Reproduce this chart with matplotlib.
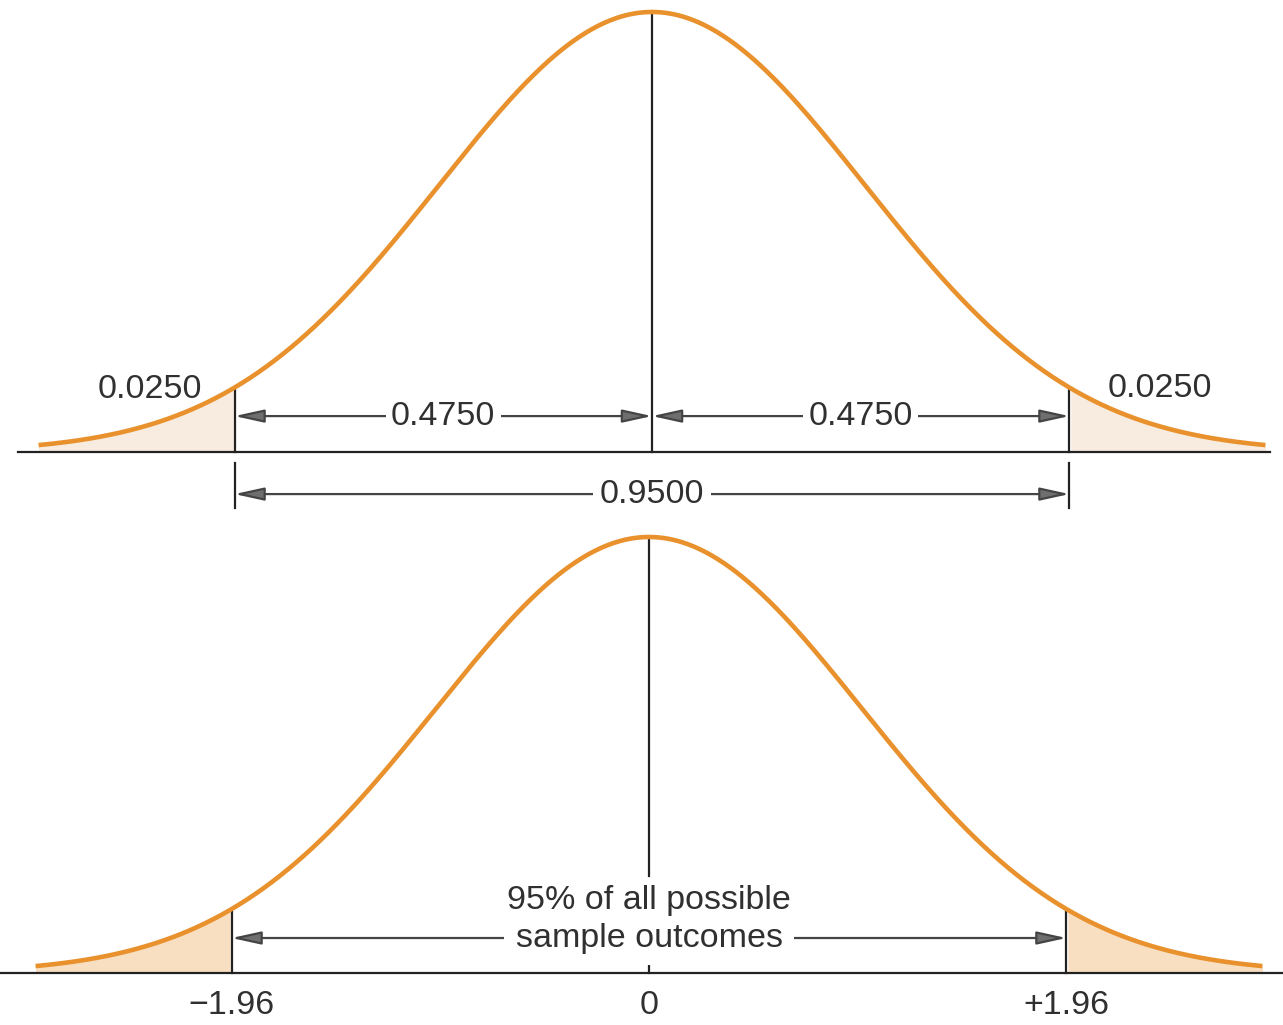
import numpy as np
import matplotlib.pyplot as plt

# values shown in the figure
cutoffs = [-1.96, 1.96]
tail_labels = ['0.0250', '0.0250']
half_labels = ['0.4750', '0.4750']
middle_label = '0.9500'
tick_values = [-1.96, 0, 1.96]
tick_labels = ['\u22121.96', '0', '+1.96']
middle_text = ['95% of all possible', 'sample outcomes']

curve_color = '#e8912d'
line_color = '#222222'
text_color = '#303030'
fs = 24.5
plt.rcParams['font.family'] = ['Liberation Sans', 'DejaVu Sans']

px = 213  # pixels per standard deviation
z_end = 2.88
z = np.linspace(-z_end, z_end, 600)
pdf = np.exp(-z ** 2 / 2) / np.sqrt(2 * np.pi)
peak = 1 / np.sqrt(2 * np.pi)


def pdf_at(v):
    return np.exp(-v ** 2 / 2) / np.sqrt(2 * np.pi)


def arrow(ax, x0, x1, y):
    ax.annotate('', xy=(x1, y), xytext=(x0, y),
                arrowprops=dict(arrowstyle='<|-|>,head_length=1.0,head_width=0.22',
                                mutation_scale=18, ec='#444444', fc='#6e6e6e',
                                lw=1.6, shrinkA=0, shrinkB=0))


def draw_curve(ax, fill_color):
    ax.plot(z, pdf, color=curve_color, lw=3.3, solid_capstyle='butt', zorder=3)
    left = z <= cutoffs[0]
    right = z >= cutoffs[1]
    ax.fill_between(z[left], pdf[left], 0, color=fill_color, lw=0, zorder=1)
    ax.fill_between(z[right], pdf[right], 0, color=fill_color, lw=0, zorder=1)
    for c in cutoffs:
        ax.plot([c, c], [0, pdf_at(c)], color=line_color, lw=1.6, zorder=2)


fig = plt.figure(figsize=(12.83, 10.25), dpi=100)

# top panel: areas under the curve
ax1 = fig.add_axes([0, 1 - 520 / 1025, 1, 520 / 1025])
ax1.set_xlim(-652 / px, (1283 - 652) / px)
ax1.set_ylim(-0.0616, 0.4098)
ax1.axis('off')
draw_curve(ax1, '#f8ece0')
ax1.plot([-2.977, 2.901], [0, 0], color=line_color, lw=1.6, zorder=2)
ax1.plot([0, 0], [0, peak], color=line_color, lw=1.6, zorder=2)

ax1.text(-2.357, 0.057, tail_labels[0], ha='center', va='center', fontsize=fs, color=text_color)
ax1.text(2.385, 0.058, tail_labels[1], ha='center', va='center', fontsize=fs, color=text_color)

y_half = 0.0326
arrow(ax1, cutoffs[0], 0, y_half)
arrow(ax1, 0, cutoffs[1], y_half)
for x, lab in zip([cutoffs[0] / 2, cutoffs[1] / 2], half_labels):
    ax1.text(x, y_half, lab, ha='center', va='center', fontsize=fs, color=text_color,
             bbox=dict(fc='white', ec='none', pad=4), zorder=4)

y_mid = -0.0381
for c in cutoffs:
    ax1.plot([c, c], [-0.010, -0.051], color=line_color, lw=1.6)
arrow(ax1, cutoffs[0], cutoffs[1], y_mid)
ax1.text(0, y_mid, middle_label, ha='center', va='center', fontsize=fs, color=text_color,
         bbox=dict(fc='white', ec='none', pad=5), zorder=4)

# bottom panel: 95% of sample outcomes
ax2 = fig.add_axes([0, 0, 1, 505 / 1025])
ax2.set_xlim(-649 / px, (1283 - 649) / px)
ax2.set_ylim(-0.0476, 0.4145)
ax2.axis('off')
draw_curve(ax2, '#f9dfc2')
ax2.plot([-3.1, 3.1], [0, 0], color=line_color, lw=1.6, zorder=2)
ax2.plot([0, 0], [0.0887, peak], color=line_color, lw=1.6, zorder=2)
ax2.plot([0, 0], [0, 0.0146], color=line_color, lw=1.6, zorder=2)

y_arr = 0.032
arrow(ax2, cutoffs[0], cutoffs[1], y_arr)
ax2.text(0, 0.0665, middle_text[0], ha='center', va='center', fontsize=fs, color=text_color,
         zorder=5)
ax2.text(0, y_arr, middle_text[1], ha='center', va='center', fontsize=fs, color=text_color,
         bbox=dict(fc='white', ec='none', pad=8), zorder=4)

for v, lab in zip(tick_values, tick_labels):
    ax2.text(v, -0.030, lab, ha='center', va='center', fontsize=fs, color=text_color)

fig.savefig('out.png', dpi=100, facecolor='white')
